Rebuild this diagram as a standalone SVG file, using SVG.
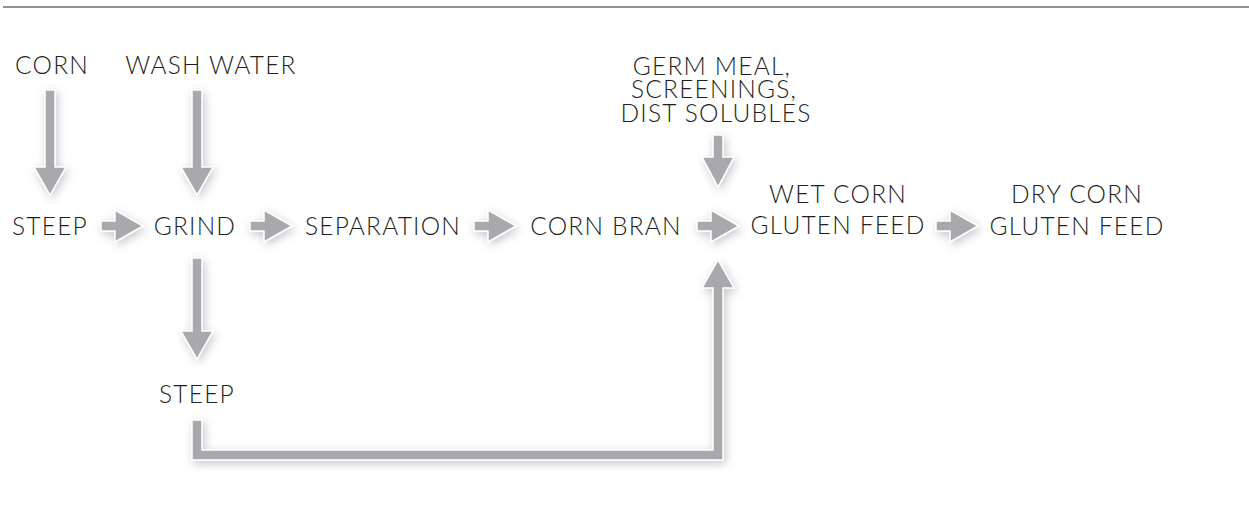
<svg xmlns="http://www.w3.org/2000/svg" width="1249" height="529" viewBox="0 0 1249 529">
<defs>
<style>
text{font-family:"Lato","Liberation Sans",sans-serif;font-weight:300;font-size:24.5px;letter-spacing:1.2px;fill:#231f20;text-anchor:middle}
.arr{fill:#a7a9ac;stroke:#ffffff;stroke-width:1.5;stroke-linejoin:miter;filter:url(#sh)}
</style>
<filter id="sh" x="-50%" y="-50%" width="200%" height="200%">
<feDropShadow dx="2" dy="3" stdDeviation="5" flood-color="#000" flood-opacity="0.22"/>
</filter>
</defs>
<rect width="1249" height="529" fill="#fff"/>
<line x1="3" y1="7" x2="1249" y2="7" stroke="#6d6e71" stroke-width="1.6"/>
<g id="connectors">
<polygon class="arr" points="45,90 55,90 55,167 66,167 50,195 34,167 45,167"/>
<polygon class="arr" points="192,90 202,90 202,167 213,167 197,195 181,167 192,167"/>
<polygon class="arr" points="713,135 723,135 723,157 734,157 718,187 702,157 713,157"/>
<polygon class="arr" points="192,258 202,258 202,331 213,331 197,359 181,331 192,331"/>
<polygon class="arr" points="101,221 115,221 115,210 143,226 115,242 115,231 101,231"/>
<polygon class="arr" points="250,221 264,221 264,210 292,226 264,242 264,231 250,231"/>
<polygon class="arr" points="474,221 488,221 488,210 516,226 488,242 488,231 474,231"/>
<polygon class="arr" points="697,221 711,221 711,210 739,226 711,242 711,231 697,231"/>
<polygon class="arr" points="936,221 950,221 950,210 978,226 950,242 950,231 936,231"/>
<polygon class="arr" points="192,420 202,420 202,450 713,450 713,288 702,288 718,260 734,288 723,288 723,460 192,460"/>
</g>
<g id="corn"><text x="52" y="74">CORN</text></g>
<g id="wash-water"><text x="211" y="74">WASH WATER</text></g>
<g id="steep"><text x="50" y="235">STEEP</text></g>
<g id="grind"><text x="195" y="235">GRIND</text></g>
<g id="separation"><text x="383" y="235">SEPARATION</text></g>
<g id="corn-bran"><text x="606" y="235">CORN BRAN</text></g>
<g id="germ-meal"><text x="712" y="75">GERM MEAL,</text><text x="714" y="98">SCREENINGS,</text><text x="716" y="122">DIST SOLUBLES</text></g>
<g id="wet-corn"><text x="838" y="203">WET CORN</text><text x="838" y="234">GLUTEN FEED</text></g>
<g id="dry-corn"><text x="1077" y="203">DRY CORN</text><text x="1077" y="235">GLUTEN FEED</text></g>
<g id="steep-2"><text x="197" y="403">STEEP</text></g>
</svg>
